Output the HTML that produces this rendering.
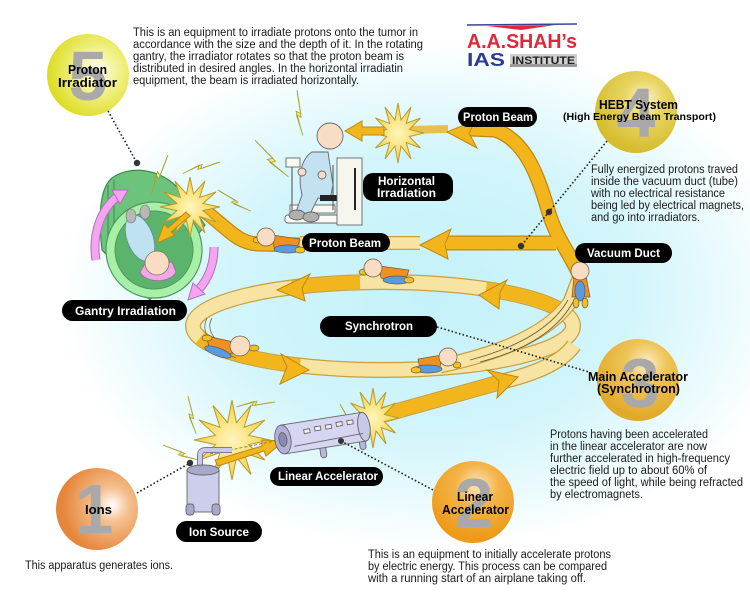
<!DOCTYPE html>
<html><head><meta charset="utf-8">
<style>
html,body{margin:0;padding:0;background:#fff;}
svg{display:block;}
text{font-family:"Liberation Sans",Arial,sans-serif;}
.b{font-weight:bold;}
.t{font-size:11.5px;fill:#1a1a1a;}
.pl{font-size:12px;font-weight:bold;fill:#fff;}
.cl{font-weight:bold;fill:#000;}
.dg{font-size:70px;font-weight:bold;fill:#a9a9a9;text-anchor:middle;}
.dot{stroke:#222;stroke-width:1.6;stroke-dasharray:1.6 2.2;fill:none;}
</style></head>
<body>
<svg width="750" height="600" viewBox="0 0 750 600" xmlns="http://www.w3.org/2000/svg">
<defs>
 <radialGradient id="bg" cx="0.5" cy="0.5" r="0.5">
  <stop offset="0" stop-color="#c4f1fa"/>
  <stop offset="0.55" stop-color="#d2f5fb"/>
  <stop offset="0.82" stop-color="#ecfbfd"/>
  <stop offset="1" stop-color="#ffffff"/>
 </radialGradient>
 <radialGradient id="g5" cx="0.62" cy="0.45" r="0.62"><stop offset="0" stop-color="#ffffff"/><stop offset="0.35" stop-color="#f4f49a"/><stop offset="1" stop-color="#dcdc1e"/></radialGradient>
 <radialGradient id="g4" cx="0.6" cy="0.35" r="0.65"><stop offset="0" stop-color="#fbf4c8"/><stop offset="0.4" stop-color="#e8d460"/><stop offset="1" stop-color="#d4bc2c"/></radialGradient>
 <radialGradient id="g3" cx="0.6" cy="0.3" r="0.65"><stop offset="0" stop-color="#fbeec8"/><stop offset="0.4" stop-color="#eec458"/><stop offset="1" stop-color="#e2aa2a"/></radialGradient>
 <radialGradient id="g2" cx="0.55" cy="0.3" r="0.65"><stop offset="0" stop-color="#fde6c0"/><stop offset="0.4" stop-color="#f4b448"/><stop offset="1" stop-color="#ec9a18"/></radialGradient>
 <radialGradient id="g1" cx="0.68" cy="0.45" r="0.6"><stop offset="0" stop-color="#ffffff"/><stop offset="0.35" stop-color="#f4c090"/><stop offset="1" stop-color="#e6863a"/></radialGradient>
 <radialGradient id="sg" cx="0.5" cy="0.5" r="0.5"><stop offset="0" stop-color="#fff6c0"/><stop offset="1" stop-color="#f4d040"/></radialGradient>
 <polygon id="star" points="100,0 43.5,11.7 86.6,50 31.8,31.8 50,86.6 11.7,43.5 0,100 -11.7,43.5 -50,86.6 -31.8,31.8 -86.6,50 -43.5,11.7 -100,0 -43.5,-11.7 -86.6,-50 -31.8,-31.8 -50,-86.6 -11.7,-43.5 0,-100 11.7,-43.5 50,-86.6 31.8,-31.8 86.6,-50 43.5,-11.7" fill="url(#sg)" stroke="#b89a30" stroke-width="1" vector-effect="non-scaling-stroke"/>
 <polygon id="bolt" points="0,0 14,12 10,13 26,24 12,15 16,14 2,2" fill="#f4ec70" stroke="#a8a030" stroke-width="0.8" vector-effect="non-scaling-stroke"/>
</defs>

<rect width="750" height="600" fill="#fff"/>
<ellipse cx="430" cy="295" rx="370" ry="255" fill="url(#bg)"/>

<!-- Logo -->
<line x1="467" y1="25" x2="577" y2="24" stroke="#3a4590" stroke-width="1.5"/>
<polygon points="487,26 555,25 521,30" fill="#e0283a"/>
<text x="467" y="48" class="b" font-size="20" fill="#e0283a" textLength="110" lengthAdjust="spacingAndGlyphs">A.A.SHAH’s</text>
<text x="467" y="66" class="b" font-size="18" fill="#2c3a92" textLength="38" lengthAdjust="spacingAndGlyphs">IAS</text>
<rect x="510" y="54" width="67" height="13" fill="#cfcfcf"/>
<rect x="510" y="64" width="67" height="3" fill="#9a9a9a"/>
<text x="512" y="64" class="b" font-size="11" fill="#222" textLength="63" lengthAdjust="spacingAndGlyphs">INSTITUTE</text>

<!-- Gantry -->
<g>
 <path d="M102,250 C98,215 100,188 112,178 C130,165 160,168 180,190 L205,225 L150,300 Z" fill="#6cc47c" stroke="#3e8a4e" stroke-width="1.2"/>
 <line x1="108" y1="185" x2="108" y2="245" stroke="#3e8a4e" stroke-width="1"/>
 <line x1="114" y1="180" x2="114" y2="240" stroke="#3e8a4e" stroke-width="1"/>
 <circle cx="154" cy="250" r="48" fill="#a8f0a8" stroke="#4e9a5e" stroke-width="1.2"/>
 <circle cx="154" cy="250" r="39" fill="#5ab46c" stroke="#4e9a5e" stroke-width="1"/>
 <!-- patient in gantry -->
 <ellipse cx="140" cy="238" rx="13" ry="24" transform="rotate(-20 140 238)" fill="#bfe2f2" stroke="#6a8a9a" stroke-width="0.8"/>
 <ellipse cx="131" cy="216" rx="5" ry="7" fill="#b8b8b8" stroke="#777" stroke-width="0.6"/>
 <ellipse cx="145" cy="212" rx="5" ry="7" fill="#b8b8b8" stroke="#777" stroke-width="0.6"/>
 <path d="M140,272 C145,283 170,284 176,272 L172,262 L145,264 Z" fill="#f0a8e8" stroke="#a06a9a" stroke-width="0.8"/>
 <circle cx="157" cy="263" r="12" fill="#f8dcc4" stroke="#8a7060" stroke-width="0.8"/>
 <!-- pink arrows -->
 <path d="M96,260 C92,235 100,210 118,196" stroke="#b070b8" stroke-width="9" fill="none"/>
 <path d="M96,260 C92,235 100,210 118,196" stroke="#f4a4f0" stroke-width="7" fill="none"/>
 <polygon points="128,190 112,190 120,204" fill="#f4a4f0" stroke="#b070b8" stroke-width="1"/>
 <path d="M214,247 C214,265 208,280 198,290" stroke="#b070b8" stroke-width="9" fill="none"/>
 <path d="M214,247 C214,265 208,280 198,290" stroke="#f4a4f0" stroke-width="7" fill="none"/>
 <polygon points="188,300 193,283 205,294" fill="#f4a4f0" stroke="#b070b8" stroke-width="1"/>
</g>

<!-- Synchrotron ring -->
<ellipse cx="383" cy="326" rx="190" ry="44" fill="none" stroke="#c8a040" stroke-width="16"/>
<ellipse cx="383" cy="326" rx="190" ry="44" fill="none" stroke="#f7e3a2" stroke-width="13.5"/>
<g fill="none" stroke-width="13.5" stroke="#f2b61c">
 <path d="M360,282.3 A190,44 0 0 0 292,287.5"/>
 <path d="M200,337.8 A190,44 0 0 0 300,365.6"/>
 <path d="M486,289 A190,44 0 0 1 560,310"/>
</g>
<path d="M240,355 C215,345 205,330 212,318" stroke="#7a6a30" stroke-width="0.8" fill="none"/>
<path d="M236,358 C210,347 200,332 207,318" stroke="#7a6a30" stroke-width="0.8" fill="none"/>
<!-- linac arc -->
<path d="M372,418 Q450,396 512,379 Q560,366 574,345" stroke="#c8a040" stroke-width="16" fill="none"/>
<path d="M372,418 Q450,396 512,379 Q560,366 574,345" stroke="#f7e3a2" stroke-width="13.5" fill="none"/>
<path d="M372,418 Q450,396 505,381" stroke="#f2b61c" stroke-width="13.5" fill="none"/>
<!-- extraction band -->
<path d="M440,366 Q540,345 570,302 L580,276" stroke="#c8a040" stroke-width="15" fill="none"/>
<path d="M440,366 Q540,345 570,302 L580,276" stroke="#f7e3a2" stroke-width="12.5" fill="none"/>
<path d="M470,360 Q545,340 568,300" stroke="#6a5a30" stroke-width="0.8" fill="none"/>
<path d="M480,362 Q550,344 573,302" stroke="#6a5a30" stroke-width="0.8" fill="none"/>

<!-- ring arrowheads -->
<g fill="#f2b61c" stroke="#c0880c" stroke-width="1">
 <polygon points="277,290 310,274 302,288 305,301"/>
 <polygon points="309,370 281,354 287,367 280,384"/>
 <polygon points="479,295 507,280 500,292 499,309"/>
 <polygon points="518,377 487,370 499,381 497,398"/>
</g>

<!-- HEBT -->
<path d="M420,243 L300,243" stroke="#c8a040" stroke-width="14" fill="none"/>
<path d="M420,243 L300,243" stroke="#f7e3a2" stroke-width="11.5" fill="none"/>
<g fill="none" stroke-linejoin="round">
 <path d="M580,276 C568,250 556,238 548,210 C538,175 525,140 495,130 L470,129" stroke="#c0880c" stroke-width="15"/>
 <path d="M556,243 L446,243" stroke="#c0880c" stroke-width="15"/>
 <path d="M300,245 L258,244 C236,243 226,226 203,210" stroke="#c0880c" stroke-width="15"/>
 <path d="M580,276 C568,250 556,238 548,210 C538,175 525,140 495,130 L470,129" stroke="#f2b61c" stroke-width="12.5"/>
 <path d="M557,243 L446,243" stroke="#f2b61c" stroke-width="12.5"/>
 <path d="M300,245 L258,244 C236,243 226,226 203,210" stroke="#f2b61c" stroke-width="12.5"/>
 <path d="M448,129 L410,130" stroke="#e8c050" stroke-width="8"/>
</g>
<g fill="#f2b61c" stroke="#c0880c" stroke-width="1">
 <polygon points="420,245 451,229 445,244 448,259"/>
 <polygon points="447,132 476,120 469,133 477,148"/>
</g>

<!-- stars -->
<use href="#star" transform="translate(398,133) scale(0.26,0.3)"/>
<use href="#star" transform="translate(190,207) scale(0.3,0.3)"/>
<use href="#star" transform="translate(232,440) scale(0.38,0.4)"/>
<use href="#star" transform="translate(373,418) scale(0.26,0.3)"/>

<!-- small arrows -->
<g fill="#f2b61c" stroke="#c0880c" stroke-width="1">
 <path d="M384,127 L362,127 L362,121 L345,131 L362,141 L362,135 L384,135 Z"/>
 <path d="M186,212 L168,228 L164,224 L157,243 L175,235 L171,232 L190,216 Z"/>
 <path d="M215,460 L262,446 L262,440 L284,441 L266,456 L264,451 L218,466 Z"/>
</g>
<path d="M210,454 L280,440" stroke="#7a6a30" stroke-width="0.8" stroke-dasharray="3 2" fill="none"/>

<!-- lightning bolts -->
<use href="#bolt" transform="translate(297,90) rotate(40) scale(1.3)"/>
<use href="#bolt" transform="translate(255,140) rotate(5) scale(1.4)"/>
<use href="#bolt" transform="translate(168,155) rotate(70) scale(1.2)"/>
<use href="#bolt" transform="translate(220,162) rotate(120) scale(1.1)"/>
<use href="#bolt" transform="translate(218,190) rotate(-10) scale(1.1)"/>
<use href="#bolt" transform="translate(163,445) rotate(-20) scale(1.1)"/>
<use href="#bolt" transform="translate(188,396) rotate(35) scale(1.1)"/>
<use href="#bolt" transform="translate(275,402) rotate(130) scale(1.1)"/>
<use href="#bolt" transform="translate(340,404) rotate(20) scale(0.9)"/>

<!-- horizontal irradiation patient -->
<g stroke="#666" stroke-width="0.9">
 <rect x="290" y="205" width="45" height="8" fill="#fafaf5"/>
 <rect x="285" y="215" width="55" height="8" rx="3" fill="#fafaf5"/>
 <line x1="292" y1="160" x2="292" y2="215" stroke-width="1.2"/>
 <line x1="333" y1="165" x2="333" y2="210" stroke-width="1.2"/>
 <rect x="286" y="158" width="14" height="9" fill="#fafaf5"/>
 <path d="M312,152 C300,160 298,178 302,195 L296,212 L310,214 L318,198 L330,200 L333,185 L328,152 Z" fill="#c2e2f2"/>
 <ellipse cx="297" cy="215" rx="8" ry="5" fill="#b0b0b0"/>
 <ellipse cx="311" cy="217" rx="8" ry="5" fill="#b0b0b0"/>
 <circle cx="330" cy="136" r="13" fill="#f8dcc4"/>
 <circle cx="302" cy="172" r="4" fill="#f8dcc4"/>
 <circle cx="322" cy="175" r="4" fill="#f8dcc4"/>
 <rect x="320" y="195" width="18" height="6" fill="#222" stroke="none"/>
 <rect x="337" y="158" width="25" height="67" fill="#f6f6ee"/>
 <line x1="355" y1="168" x2="355" y2="210" stroke="#222" stroke-width="2"/>
</g>

<!-- characters -->
<g stroke="#6a5a40" stroke-width="0.7">
 <g transform="translate(266,237)"><path d="M6,-2 L34,2 L30,15 L8,10Z" fill="#f09020"/><ellipse cx="22" cy="12" rx="14" ry="4" fill="#5a9ae0"/><ellipse cx="34" cy="13" rx="5" ry="3" fill="#f2c020"/><ellipse cx="-8" cy="3" rx="5" ry="3" fill="#f2c020"/><circle r="9" fill="#f8dcc4"/></g>
 <g transform="translate(373,268)"><path d="M6,-2 L36,2 L32,14 L8,10Z" fill="#f09020"/><ellipse cx="24" cy="12" rx="14" ry="4" fill="#5a9ae0"/><ellipse cx="36" cy="12" rx="5" ry="3" fill="#f2c020"/><ellipse cx="-9" cy="4" rx="5" ry="3" fill="#f2c020"/><circle r="9" fill="#f8dcc4"/></g>
 <g transform="translate(240,346)"><path d="M-6,-4 L-34,-10 L-30,4 L-8,8Z" fill="#f09020"/><ellipse cx="-22" cy="6" rx="14" ry="4" fill="#5a9ae0" transform="rotate(20 -22 6)"/><ellipse cx="-33" cy="-8" rx="5" ry="3" fill="#f2c020"/><ellipse cx="14" cy="2" rx="5" ry="3" fill="#f2c020"/><circle r="10" fill="#f8dcc4"/></g>
 <g transform="translate(448,357)"><path d="M-6,-2 L-30,2 L-28,12 L-8,10Z" fill="#f09020"/><ellipse cx="-20" cy="12" rx="14" ry="4" fill="#5a9ae0"/><ellipse cx="-32" cy="13" rx="5" ry="3" fill="#f2c020"/><ellipse cx="9" cy="8" rx="4" ry="3" fill="#f2c020"/><circle r="9" fill="#f8dcc4"/></g>
 <g transform="translate(580,271)"><path d="M-6,5 L6,5 L10,26 L-8,26Z" fill="#f09020"/><ellipse cx="0" cy="20" rx="5" ry="10" fill="#5a9ae0"/><ellipse cx="-4" cy="32" rx="3" ry="5" fill="#f2c020"/><ellipse cx="5" cy="32" rx="3" ry="5" fill="#f2c020"/><circle r="9" fill="#f8dcc4"/></g>
</g>

<!-- ion source -->
<g stroke="#666" stroke-width="0.9">
 <path d="M200,468 L200,455 Q200,450 206,450 L232,450" stroke="#7a7aa0" stroke-width="6" fill="none"/>
 <path d="M200,468 L200,455 Q200,450 206,450 L232,450" stroke="#c8c8e8" stroke-width="4" fill="none"/>
 <rect x="187" y="470" width="32" height="42" fill="#cdcdec"/>
 <ellipse cx="203" cy="470" rx="16" ry="5" fill="#a8a8cc"/>
 <rect x="186" y="504" width="8" height="11" rx="3" fill="#a8a8cc"/>
 <rect x="212" y="504" width="8" height="11" rx="3" fill="#a8a8cc"/>
</g>

<!-- linear accelerator -->
<g transform="translate(283,440) rotate(-9)" stroke="#666" stroke-width="0.9">
 <rect x="35" y="10" width="6" height="14" rx="3" fill="#b8b8dc"/>
 <rect x="75" y="8" width="6" height="14" rx="3" fill="#b8b8dc"/>
 <rect x="0" y="-15" width="82" height="29" fill="#d6d6f2"/>
 <ellipse cx="82" cy="-0.5" rx="6" ry="14.5" fill="#c8c8e8"/>
 <ellipse cx="0" cy="-0.5" rx="8" ry="14.5" fill="#b0b0d8"/>
 <ellipse cx="0" cy="-0.5" rx="4" ry="7" fill="#8a8ab8"/>
 <rect x="22" y="-7" width="6" height="4" fill="#eee"/>
 <rect x="33" y="-8" width="6" height="4" fill="#eee"/>
 <rect x="44" y="-8" width="6" height="4" fill="#eee"/>
 <rect x="55" y="-9" width="6" height="4" fill="#eee"/>
 <rect x="66" y="-9" width="6" height="4" fill="#eee"/>
 <line x1="10" y1="8" x2="80" y2="6"/>
</g>

<!-- dotted leader lines -->
<path class="dot" d="M108,111 L137,163"/>
<circle cx="137" cy="163" r="3.2" fill="#333"/>
<path class="dot" d="M607,141 L521,246"/>
<circle cx="549" cy="212" r="3.2" fill="#333"/>
<circle cx="521" cy="246" r="3.2" fill="#333"/>
<path class="dot" d="M437,327 L589,372"/>
<path class="dot" d="M341,441 L435,491"/>
<circle cx="341" cy="441" r="3" fill="#333"/>
<path class="dot" d="M137,493 L190,463"/>
<circle cx="190" cy="463" r="3.2" fill="#333"/>

<!-- pills -->
<g fill="#000">
 <rect x="458" y="107" width="79" height="20" rx="10"/>
 <rect x="363" y="173" width="90" height="28" rx="10"/>
 <rect x="302" y="233" width="88" height="19" rx="9.5"/>
 <rect x="575" y="243" width="97" height="20" rx="10"/>
 <rect x="320" y="316" width="117" height="21" rx="10.5"/>
 <rect x="62" y="300" width="125" height="21" rx="10.5"/>
 <rect x="270" y="467" width="113" height="19" rx="9.5"/>
 <rect x="176" y="521" width="86" height="21" rx="10.5"/>
</g>
<text class="pl" x="463" y="121" textLength="70" lengthAdjust="spacingAndGlyphs">Proton Beam</text>
<text class="pl" x="378" y="185" textLength="57" lengthAdjust="spacingAndGlyphs">Horizontal</text>
<text class="pl" x="377" y="197" textLength="59" lengthAdjust="spacingAndGlyphs">Irradiation</text>
<text class="pl" x="309" y="247" textLength="72" lengthAdjust="spacingAndGlyphs">Proton Beam</text>
<text class="pl" x="587" y="257" textLength="73" lengthAdjust="spacingAndGlyphs">Vacuum Duct</text>
<text class="pl" x="345" y="330" textLength="68" lengthAdjust="spacingAndGlyphs">Synchrotron</text>
<text class="pl" x="75" y="315" textLength="101" lengthAdjust="spacingAndGlyphs">Gantry Irradiation</text>
<text class="pl" x="278" y="480" textLength="100" lengthAdjust="spacingAndGlyphs">Linear Accelerator</text>
<text class="pl" x="189" y="536" textLength="60" lengthAdjust="spacingAndGlyphs">Ion Source</text>

<!-- numbered circles -->
<circle cx="88" cy="75" r="41" fill="url(#g5)"/>
<text class="dg" x="88" y="100">5</text>
<text class="cl" x="68" y="74" font-size="13" textLength="39" lengthAdjust="spacingAndGlyphs">Proton</text>
<text class="cl" x="58" y="87" font-size="13" textLength="59" lengthAdjust="spacingAndGlyphs">Irradiator</text>

<circle cx="636" cy="112" r="41" fill="url(#g4)"/>
<text class="dg" x="636" y="137">4</text>
<text class="cl" x="599" y="109" font-size="13" textLength="79" lengthAdjust="spacingAndGlyphs">HEBT System</text>
<text class="cl" x="563" y="120" font-size="10.5" textLength="153" lengthAdjust="spacingAndGlyphs">(High Energy Beam Transport)</text>

<circle cx="638" cy="380" r="41" fill="url(#g3)"/>
<text class="dg" x="640" y="407">3</text>
<text class="cl" x="588" y="381" font-size="13" textLength="100" lengthAdjust="spacingAndGlyphs">Main Accelerator</text>
<text class="cl" x="597" y="393" font-size="13" textLength="83" lengthAdjust="spacingAndGlyphs">(Synchrotron)</text>

<circle cx="473" cy="502" r="41" fill="url(#g2)"/>
<text class="dg" x="474" y="527">2</text>
<text class="cl" x="457" y="501" font-size="13" textLength="36" lengthAdjust="spacingAndGlyphs">Linear</text>
<text class="cl" x="442" y="514" font-size="13" textLength="67" lengthAdjust="spacingAndGlyphs">Accelerator</text>

<circle cx="97" cy="509" r="41" fill="url(#g1)"/>
<text class="dg" x="94" y="533">1</text>
<text class="cl" x="85" y="514" font-size="13" textLength="27" lengthAdjust="spacingAndGlyphs">Ions</text>

<!-- body texts -->
<text class="t" x="133" y="36" textLength="285" lengthAdjust="spacingAndGlyphs">This is an equipment to irradiate protons onto the tumor in</text>
<text class="t" x="133" y="48" textLength="290" lengthAdjust="spacingAndGlyphs">accordance with the size and the depth of it. In the rotating</text>
<text class="t" x="133" y="60" textLength="271" lengthAdjust="spacingAndGlyphs">gantry, the irradiator rotates so that the proton beam is</text>
<text class="t" x="133" y="72" textLength="270" lengthAdjust="spacingAndGlyphs">distributed in desired angles. In the horizontal irradiatin</text>
<text class="t" x="133" y="84" textLength="226" lengthAdjust="spacingAndGlyphs">equipment, the beam is irradiated horizontally.</text>

<text class="t" x="591" y="173" textLength="147" lengthAdjust="spacingAndGlyphs">Fully energized protons traved</text>
<text class="t" x="591" y="185" textLength="147" lengthAdjust="spacingAndGlyphs">inside the vacuum duct (tube)</text>
<text class="t" x="591" y="197" textLength="134" lengthAdjust="spacingAndGlyphs">with no electrical resistance</text>
<text class="t" x="591" y="209" textLength="153" lengthAdjust="spacingAndGlyphs">being led by electrical magnets,</text>
<text class="t" x="591" y="221" textLength="109" lengthAdjust="spacingAndGlyphs">and go into irradiators.</text>

<text class="t" x="550" y="438" textLength="158" lengthAdjust="spacingAndGlyphs">Protons having been accelerated</text>
<text class="t" x="550" y="450" textLength="157" lengthAdjust="spacingAndGlyphs">in the linear accelerator are now</text>
<text class="t" x="550" y="462" textLength="180" lengthAdjust="spacingAndGlyphs">further accelerated in high-frequency</text>
<text class="t" x="550" y="474" textLength="157" lengthAdjust="spacingAndGlyphs">electric field up to about 60% of</text>
<text class="t" x="550" y="486" textLength="193" lengthAdjust="spacingAndGlyphs">the speed of light, while being refracted</text>
<text class="t" x="550" y="498" textLength="93" lengthAdjust="spacingAndGlyphs">by electromagnets.</text>

<text class="t" x="368" y="558" textLength="243" lengthAdjust="spacingAndGlyphs">This is an equipment to initially accelerate protons</text>
<text class="t" x="368" y="570" textLength="239" lengthAdjust="spacingAndGlyphs">by electric energy. This process can be compared</text>
<text class="t" x="368" y="582" textLength="218" lengthAdjust="spacingAndGlyphs">with a running start of an airplane taking off.</text>

<text class="t" x="25" y="569" textLength="148" lengthAdjust="spacingAndGlyphs">This apparatus generates ions.</text>
</svg>
</body></html>
